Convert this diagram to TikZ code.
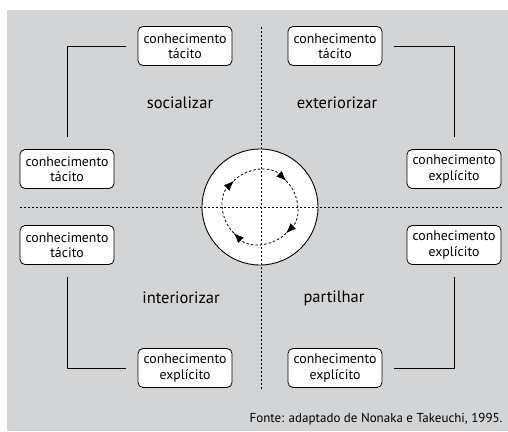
\documentclass[tikz,border=0pt]{standalone}
\usepackage{fontspec}
\setmainfont{PT Sans}
\usepackage{tikz}
\usetikzlibrary{positioning, arrows.meta}
\definecolor{fundo}{RGB}{211,212,214}

\begin{document}
\begin{tikzpicture}[x=1pt, y=-1pt,
                    every node/.style = {text=black, font=\fontsize{13.8}{15.5}\selectfont},
                    conh/.style = {draw, fill=white, rounded corners=5pt, line width=0.8pt,
                                   minimum width=94pt, minimum height=39pt, align=center, inner sep=1pt},
                    link/.style = {draw, line width=0.9pt, shorten >=12pt, shorten <=12pt},
                    eixo/.style = {draw, dash pattern=on 2pt off 2pt, line width=0.6pt},
                    giro/.style = {draw, dash pattern=on 2.5pt off 2pt, line width=0.8pt, -{Latex[length=10pt, width=8pt]}},
                    modo/.style = {font=\fontsize{16.5}{18}\selectfont}]
                \useasboundingbox (0,0) rectangle (508,431);
                \fill[fundo] (7,10) rectangle (508,431);
                % ciclo central
                \node (ciclo) [circle, draw, fill=white, line width=0.9pt, minimum size=116pt] at (260,207) {};
                \draw[eixo] (261,27) -- (261,390);
                \draw[eixo] (20,207) -- (503,207);
                \draw[giro] ([shift={(-135:37)}]ciclo.center) arc[start angle=-135, end angle=-45, radius=37];
                \draw[giro] ([shift={(-45:37)}]ciclo.center) arc[start angle=-45, end angle=45, radius=37];
                \draw[giro] ([shift={(45:37)}]ciclo.center) arc[start angle=45, end angle=135, radius=37];
                \draw[giro] ([shift={(135:37)}]ciclo.center) arc[start angle=135, end angle=225, radius=37];
                % caixas
                \node (socA) [conh] at (185,46)  {conhecimento\\tácito};
                \node (socB) [conh] at (67,169)  {conhecimento\\tácito};
                \node (extA) [conh] at (335,46)  {conhecimento\\tácito};
                \node (extB) [conh] at (454,169) {conhecimento\\explícito};
                \node (intA) [conh] at (67,245)  {conhecimento\\tácito};
                \node (intB) [conh] at (185,368) {conhecimento\\explícito};
                \node (parA) [conh] at (454,245) {conhecimento\\explícito};
                \node (parB) [conh] at (335,368) {conhecimento\\explícito};
                \draw[link] (socA.west) -| (socB.north);
                \draw[link] (extA.east) -| (extB.north);
                \draw[link] (intA.south) |- (intB.west);
                \draw[link] (parA.south) |- (parB.east);
                % modos
                \node (socializar)   [modo] at (180,103) {socializar};
                \node (exteriorizar) [modo] at (337,103) {exteriorizar};
                \node (interiorizar) [modo] at (181,298) {interiorizar};
                \node (partilhar)    [modo] at (334,298) {partilhar};
                \node (fonte) [anchor=east, font=\fontsize{13}{15}\selectfont] at (506,419)
                      {Fonte: adaptado de Nonaka e Takeuchi, 1995.};
            \end{tikzpicture}
\end{document}
